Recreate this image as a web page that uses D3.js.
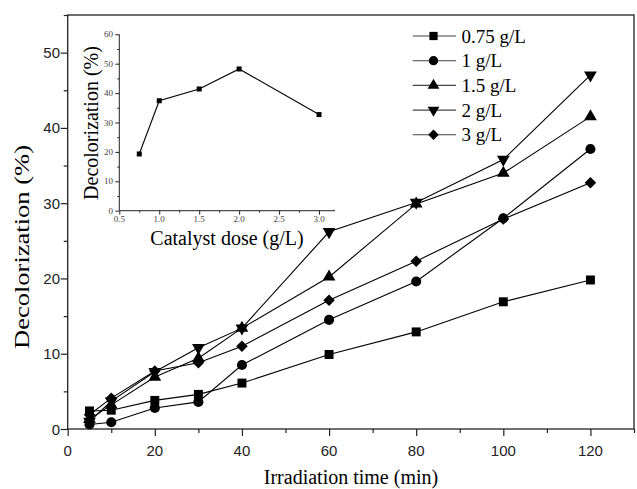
<!DOCTYPE html>
<html>
<head>
<meta charset="utf-8">
<script src="https://cdn.jsdelivr.net/npm/d3@7"></script>
<style>
  body { margin: 0; background: #fff; }
  svg { display: block; }
</style>
</head>
<body>
<svg id="chart" width="637" height="489"></svg>
<script>
// main chart data (decolorization % vs irradiation time)
var times = [5, 10, 20, 30, 40, 60, 80, 100, 120];
var dose075 = [2.4, 2.5, 3.8, 4.6, 6.1, 9.9, 12.9, 16.9, 19.8];
var dose1 = [0.6, 0.9, 2.8, 3.6, 8.5, 14.5, 19.6, 28.0, 37.2];
var dose15 = [1.3, 3.2, 6.9, 9.4, 13.4, 20.2, 29.9, 34.0, 41.5];
var dose2 = [1.0, 3.7, 7.6, 10.8, 13.4, 26.2, 30.1, 35.8, 47.0];
var dose3 = [1.9, 4.1, 7.7, 8.8, 11.0, 17.1, 22.3, 27.9, 32.7];
var seriesNames = ["0.75 g/L", "1 g/L", "1.5 g/L", "2 g/L", "3 g/L"];
var xTicks = [0, 20, 40, 60, 80, 100, 120];
var yTicks = [0, 10, 20, 30, 40, 50];

// inset data (decolorization % vs catalyst dose)
var doses = [0.75, 1.0, 1.5, 2.0, 3.0];
var doseVals = [19.3, 37.4, 41.4, 48.2, 32.7];
var insetXTicks = [0.5, 1.0, 1.5, 2.0, 2.5, 3.0];
var insetYTicks = [0, 10, 20, 30, 40, 50, 60];

var serif = "'Liberation Serif', 'Times New Roman', serif";
var sans = "'Liberation Sans', Arial, sans-serif";

var svg = d3.select("#chart");

var x = d3.scaleLinear().domain([0, 130]).range([67.7, 634]);
var y = d3.scaleLinear().domain([0, 55]).range([429, 15]);

// frame
svg.append("rect")
  .attr("x", x(0)).attr("y", y(55))
  .attr("width", x(130) - x(0)).attr("height", y(0) - y(55))
  .attr("fill", "none").attr("stroke", "#222").attr("stroke-width", 1.3);

// x axis
var xAxis = svg.append("g").attr("transform", "translate(0," + y(0) + ")");
xAxis.call(d3.axisBottom(x).tickValues(d3.range(0, 131, 10)).tickSize(4).tickFormat(""));
xAxis.call(function (g) {
  g.selectAll(".tick").filter(function (d) { return d % 20 === 0; }).select("line").attr("y2", 7);
});
xAxis.select(".domain").remove();
xAxis.selectAll("line").attr("stroke", "#222").attr("stroke-width", 1.2);
svg.append("g").selectAll("text").data(xTicks).enter().append("text")
  .attr("x", function (d) { return x(d); })
  .attr("y", 456)
  .attr("text-anchor", "middle")
  .attr("font-family", sans).attr("font-size", 15).attr("fill", "#222")
  .text(function (d) { return d; });

// y axis
var yAxis = svg.append("g").attr("transform", "translate(" + x(0) + ",0)");
yAxis.call(d3.axisLeft(y).tickValues(d3.range(0, 56, 5)).tickSize(4).tickFormat(""));
yAxis.call(function (g) {
  g.selectAll(".tick").filter(function (d) { return d % 10 === 0; }).select("line").attr("x2", -7);
});
yAxis.select(".domain").remove();
yAxis.selectAll("line").attr("stroke", "#222").attr("stroke-width", 1.2);
svg.append("g").selectAll("text").data(yTicks).enter().append("text")
  .attr("x", 60)
  .attr("y", function (d) { return y(d) + 5.5; })
  .attr("text-anchor", "end")
  .attr("font-family", sans).attr("font-size", 15).attr("fill", "#222")
  .text(function (d) { return d; });

// axis titles
svg.append("text")
  .attr("x", 351).attr("y", 484)
  .attr("text-anchor", "middle")
  .attr("font-family", serif).attr("font-size", 20)
  .text("Irradiation time (min)");
svg.append("text")
  .attr("transform", "translate(29,247) rotate(-90)")
  .attr("text-anchor", "middle")
  .attr("font-family", serif).attr("font-size", 21)
  .attr("textLength", 204).attr("lengthAdjust", "spacingAndGlyphs")
  .text("Decolorization (%)");

// series
var series = [dose075, dose1, dose15, dose2, dose3];
var symbols = [
  { type: d3.symbolSquare, size: 80, rot: 0 },
  { type: d3.symbolCircle, size: 80, rot: 0 },
  { type: d3.symbolTriangle, size: 70, rot: 0 },
  { type: d3.symbolTriangle, size: 70, rot: 180 },
  { type: d3.symbolSquare, size: 66, rot: 45 }
];

var line = d3.line()
  .x(function (d, i) { return x(times[i]); })
  .y(function (d) { return y(d); });

series.forEach(function (vals, si) {
  svg.append("path")
    .datum(vals)
    .attr("fill", "none")
    .attr("stroke", "#000")
    .attr("stroke-width", 1.1)
    .attr("d", line);
  var sym = symbols[si];
  svg.append("g").selectAll("path").data(vals).enter().append("path")
    .attr("d", d3.symbol().type(sym.type).size(sym.size))
    .attr("transform", function (d, i) {
      return "translate(" + x(times[i]) + "," + y(d) + ") rotate(" + sym.rot + ")";
    })
    .attr("fill", "#000");
});

// legend
var legend = svg.append("g");
seriesNames.forEach(function (name, i) {
  var ly = 36 + i * 24.7;
  legend.append("line")
    .attr("x1", 412.7).attr("x2", 456)
    .attr("y1", ly).attr("y2", ly)
    .attr("stroke", "#444").attr("stroke-width", 1.1);
  var sym = symbols[i];
  legend.append("path")
    .attr("d", d3.symbol().type(sym.type).size(sym.size * 0.85))
    .attr("transform", "translate(433.5," + ly + ") rotate(" + sym.rot + ")")
    .attr("fill", "#000");
  legend.append("text")
    .attr("x", 461.5).attr("y", ly + 6.5)
    .attr("font-family", serif).attr("font-size", 19)
    .text(name);
});

// inset
var ix = d3.scaleLinear().domain([0.5, 3.2]).range([119.3, 335]);
var iy = d3.scaleLinear().domain([0, 60]).range([210.7, 34.3]);

var ixAxis = svg.append("g").attr("transform", "translate(0," + iy(0) + ")");
ixAxis.call(d3.axisBottom(ix).tickValues(d3.range(0.5, 3.21, 0.25)).tickSize(2).tickFormat(""));
ixAxis.call(function (g) {
  g.selectAll(".tick").filter(function (d) { return Math.abs(d * 2 - Math.round(d * 2)) < 1e-6; }).select("line").attr("y2", 4);
});
ixAxis.select(".domain").attr("stroke", "#222").attr("d", "M" + ix(0.5) + ",0H" + ix(3.2));
ixAxis.selectAll("line").attr("stroke", "#222");
svg.append("g").selectAll("text").data(insetXTicks).enter().append("text")
  .attr("x", function (d) { return ix(d); })
  .attr("y", 222)
  .attr("text-anchor", "middle")
  .attr("font-family", serif).attr("font-size", 9).attr("fill", "#444")
  .text(function (d) { return d.toFixed(1); });

var iyAxis = svg.append("g").attr("transform", "translate(" + ix(0.5) + ",0)");
iyAxis.call(d3.axisLeft(iy).tickValues(d3.range(0, 61, 5)).tickSize(2).tickFormat(""));
iyAxis.call(function (g) {
  g.selectAll(".tick").filter(function (d) { return d % 10 === 0; }).select("line").attr("x2", -4);
});
iyAxis.select(".domain").attr("stroke", "#222").attr("d", "M0," + iy(60) + "V" + iy(0));
iyAxis.selectAll("line").attr("stroke", "#222");
svg.append("g").selectAll("text").data(insetYTicks).enter().append("text")
  .attr("x", 113)
  .attr("y", function (d) { return iy(d) + 3; })
  .attr("text-anchor", "end")
  .attr("font-family", serif).attr("font-size", 9).attr("fill", "#444")
  .text(function (d) { return d; });

var insetLine = d3.line()
  .x(function (d, i) { return ix(doses[i]); })
  .y(function (d) { return iy(d); });
svg.append("path")
  .datum(doseVals)
  .attr("fill", "none").attr("stroke", "#000").attr("stroke-width", 1.1)
  .attr("d", insetLine);
svg.append("g").selectAll("rect").data(doseVals).enter().append("rect")
  .attr("x", function (d, i) { return ix(doses[i]) - 2.5; })
  .attr("y", function (d) { return iy(d) - 2.5; })
  .attr("width", 5).attr("height", 5)
  .attr("fill", "#000");

svg.append("text")
  .attr("x", 227).attr("y", 245)
  .attr("text-anchor", "middle")
  .attr("font-family", serif).attr("font-size", 20)
  .text("Catalyst dose (g/L)");
svg.append("text")
  .attr("transform", "translate(98,123) rotate(-90)")
  .attr("text-anchor", "middle")
  .attr("font-family", serif).attr("font-size", 20)
  .text("Decolorization (%)");
</script>
</body>
</html>
